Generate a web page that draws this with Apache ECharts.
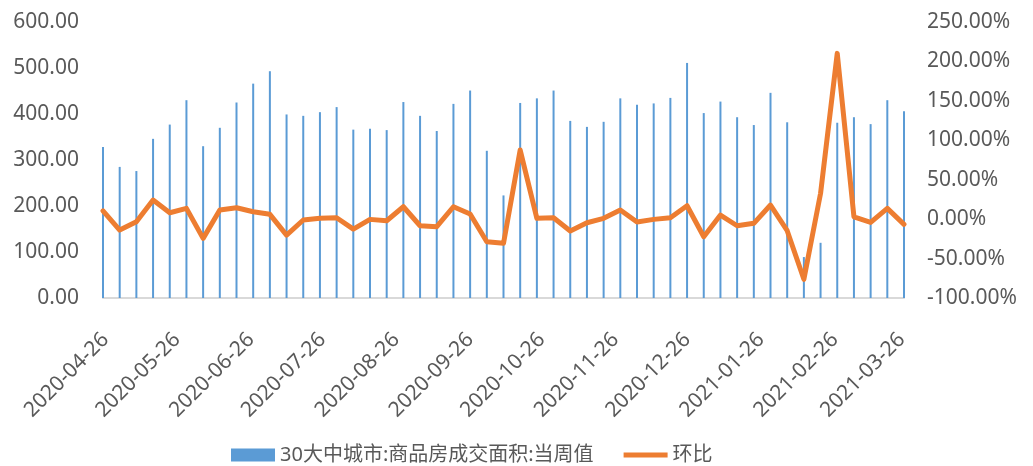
<!DOCTYPE html>
<html lang="zh">
<head>
  <meta charset="UTF-8">
  <title>30大中城市成交面积</title>
  <script src="https://cdn.jsdelivr.net/npm/echarts@6/dist/echarts.min.js"></script>
  <style>
    * { margin: 0; padding: 0; }
    body { background: #fff; }
    #chart { width: 1033px; height: 466px; }
  </style>
</head>
<body>
  <div id="chart"></div>
  <script>
    // 每周日期
    const weeks = [
      '2020-04-26', '2020-05-03', '2020-05-10', '2020-05-17', '2020-05-24', '2020-05-31', '2020-06-07',
      '2020-06-14', '2020-06-21', '2020-06-28', '2020-07-05', '2020-07-12', '2020-07-19', '2020-07-26',
      '2020-08-02', '2020-08-09', '2020-08-16', '2020-08-23', '2020-08-30', '2020-09-06', '2020-09-13',
      '2020-09-20', '2020-09-27', '2020-10-04', '2020-10-11', '2020-10-18', '2020-10-25', '2020-11-01',
      '2020-11-08', '2020-11-15', '2020-11-22', '2020-11-29', '2020-12-06', '2020-12-13', '2020-12-20',
      '2020-12-27', '2021-01-03', '2021-01-10', '2021-01-17', '2021-01-24', '2021-01-31', '2021-02-07',
      '2021-02-14', '2021-02-21', '2021-02-28', '2021-03-07', '2021-03-14', '2021-03-21', '2021-03-28'
    ]
    // 30大中城市:商品房成交面积:当周值
    const areaVals = [
      328, 285, 276, 346, 377, 430, 330, 370, 425, 466, 493, 399, 396, 404, 415, 366, 368,
      365, 426, 396, 363, 422, 451, 320, 223, 424, 434, 451, 385, 372, 383, 434, 420,
      423, 435, 511, 402, 427, 393, 376, 446, 382, 89, 120, 381, 393, 378, 430, 406
    ]
    // 环比 (%)
    const hbVals = [
      10.6, -13.8, -3.3, 24.2, 8.1, 13.7, -24.4, 11.5, 14.5, 9.4, 6.1, -20.2, -1.1, 1.0, 1.8, -12.6, -0.3,
      -2.0, 15.7, -8.4, -9.6, 15.7, 6.5, -28.6, -30.7, 87.6, 1.0, 1.8, -15.1, -4.6, 1.0, 11.5, -3.7,
      -0.3, 1.8, 17.0, -22.3, 5.2, -8.4, -5.3, 17.9, -14.7, -76.3, 32.7, 210.2, 3.0, -4.1, 13.7, -6.6
    ]
    // x轴标签
    const tickLabels = [
      '2020-04-26', '2020-05-26', '2020-06-26', '2020-07-26', '2020-08-26', '2020-09-26',
      '2020-10-26', '2020-11-26', '2020-12-26', '2021-01-26', '2021-02-26', '2021-03-26'
    ]

    const toTime = s => { const p = s.split('-'); return new Date(+p[0], +p[1] - 1, +p[2]).getTime() }
    const fmtDate = v => {
      const d = new Date(v)
      const pad = n => (n < 10 ? '0' : '') + n
      return d.getFullYear() + '-' + pad(d.getMonth() + 1) + '-' + pad(d.getDate())
    }

    const labelColor = '#595959'
    const font = "'Noto Sans', 'Noto Sans CJK SC', sans-serif"
    const chart = echarts.init(document.getElementById('chart'))

    const option = {
      animation: false,
      textStyle: { fontFamily: font },
      grid: { left: 103, right: 129, top: 22, bottom: 168 },
      legend: {
        left: 226,
        top: 440,
        itemWidth: 44,
        itemHeight: 13,
        itemGap: 30,
        textStyle: { fontSize: 20, color: labelColor, fontFamily: font },
        data: [
          { name: '30大中城市:商品房成交面积:当周值', icon: 'rect' },
          { name: '环比', icon: 'path://M0,0L44,0L44,5L0,5Z' }
        ]
      },
      xAxis: {
        type: 'value',
        min: toTime(weeks[0]),
        max: toTime(weeks[weeks.length - 1]),
        axisLine: { lineStyle: { color: '#d9d9d9', width: 2 } },
        axisTick: { show: false },
        splitLine: { show: false },
        axisLabel: {
          customValues: tickLabels.map(toTime),
          formatter: v => fmtDate(v),
          rotate: 45,
          verticalAlign: 'top',
          padding: [0, 7, 0, 0],
          margin: 26,
          fontSize: 21,
          color: labelColor,
          hideOverlap: false
        }
      },
      yAxis: [
        {
          type: 'value',
          min: 0, max: 600, interval: 100,
          splitLine: { show: false },
          axisLine: { show: false },
          axisTick: { show: false },
          axisLabel: { formatter: v => v.toFixed(2), fontSize: 21, color: labelColor, margin: 24 }
        },
        {
          type: 'value',
          min: -100, max: 250, interval: 50,
          splitLine: { show: false },
          axisLine: { show: false },
          axisTick: { show: false },
          axisLabel: { formatter: v => v.toFixed(2) + '%', fontSize: 21, color: labelColor, margin: 23 }
        }
      ],
      series: [
        {
          name: '30大中城市:商品房成交面积:当周值',
          type: 'bar',
          barWidth: 2,
          clip: false,
          itemStyle: { color: '#5b9bd5' },
          data: weeks.map((d, i) => [toTime(d), areaVals[i]])
        },
        {
          name: '环比',
          type: 'line',
          yAxisIndex: 1,
          symbol: 'none',
          clip: false,
          lineStyle: { color: '#ed7d31', width: 5, join: 'round', cap: 'round' },
          itemStyle: { color: '#ed7d31' },
          data: weeks.map((d, i) => [toTime(d), hbVals[i]])
        }
      ]
    }

    chart.setOption(option)
  </script>
</body>
</html>
